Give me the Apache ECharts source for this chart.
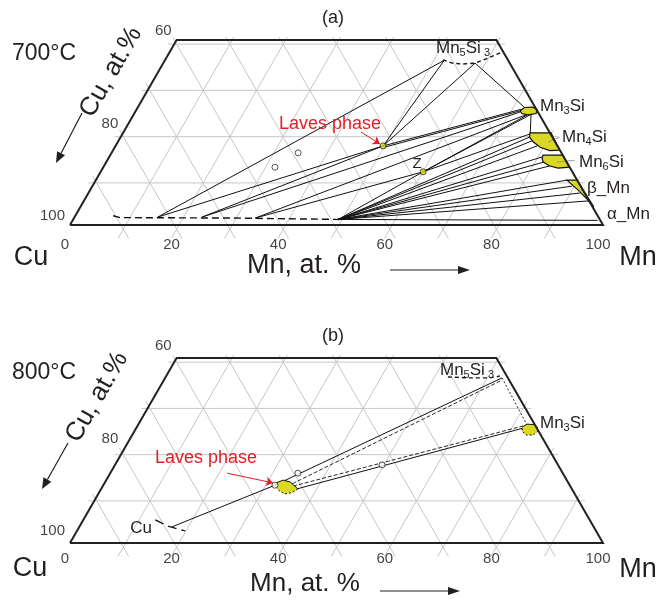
<!DOCTYPE html>
<html><head><meta charset="utf-8">
<script src="https://cdn.jsdelivr.net/npm/echarts@6/dist/echarts.min.js"></script>
<style>html,body{margin:0;padding:0;background:#fff}#c{width:660px;height:605px}</style>
</head><body><div id="c"></div>
<script>
// ---------------- DATA (compositions as [Mn at.%, Si at.%]) ----------------
const bottomTicks = [0, 20, 40, 60, 80, 100];      // Mn, at.%
const cuTicks = [60, 80, 100];                      // Cu, at.%
const gridStep = 10;
const siTop = 40;

// Panel (a) 700 °C
const a_cuBoundary = [[7.1,2.0],[8.6,1.6],[30,1.5],[50,1.2]];
const a_mn5si3Boundary = [[52.1,35.7],[54.2,35.0],[56.1,34.8],[58.5,35.0],[60.4,36.1],[62.1,37.2]];
const a_lavesPt = [[50.2,17.1]];
const a_zPt = [[60.5,11.5]];
const a_openPts = [[32.2,12.5],[35.0,15.6]];
const a_tieLines = [
  [[15.6,1.7],[52.4,35.6]],
  [[15.6,1.7],[50.2,17.1]],
  [[23.9,1.7],[50.2,17.1]],
  [[23.9,1.7],[72.2,24.4]],
  [[50.2,17.1],[52.4,35.6]],
  [[50.2,17.1],[58.5,35.0]],
  [[58.5,35.0],[72.6,25.4]],
  [[50.2,17.1],[72.1,25.0]],
  [[50.5,16.8],[72.2,24.7]],
  [[34.0,1.5],[73.6,23.8]],
  [[34.0,1.5],[60.5,11.5]],
  [[60.5,11.5],[73.9,23.8]],
  [[60.5,11.5],[74.4,23.8]],
  [[74.6,23.8],[76.4,19.9]],
  [[60.5,11.5],[76.5,19.7]],
  [[49.7,1.2],[60.5,11.5]],
  [[49.7,1.2],[76.7,19.0]],
  [[49.7,1.2],[77.6,18.2]],
  [[49.7,1.2],[79.1,17.1]],
  [[49.7,1.2],[81.2,14.7]],
  [[49.7,1.2],[82.1,13.6]],
  [[49.7,1.2],[83.7,12.8]],
  [[49.7,1.2],[88.4,9.7]],
  [[49.7,1.2],[90.0,8.4]],
  [[49.7,1.2],[92.2,6.9]],
  [[49.7,1.2],[94.6,5.2]],
  [[49.7,1.2],[98.5,1.0]]
];
const a_regions = [
  [[72.1,24.7],[72.6,25.4],[74.0,25.5],[75.1,25.0],[75.4,24.1],[74.0,23.8],[72.7,24.1]],   // Mn3Si
  [[76.35,19.9],[80.3,19.9],[83.8,16.2],[82.0,16.1],[79.8,16.8],[77.9,18.0],[76.7,19.0]],  // Mn4Si
  [[81.2,15.1],[84.9,15.1],[87.4,12.5],[85.4,12.3],[83.5,12.8],[82.0,13.6],[81.3,14.5]],   // Mn6Si
  [[88.4,9.7],[90.25,9.7],[96.35,3.9],[94.2,5.6],[91.5,7.6],[89.25,9.1]]                   // beta-Mn
];
const a_pointers = [
  [[80.7,17.9],[82.4,19.0]],
  [[84.6,13.6],[87.7,14.0]],
  [[91.7,7.1],[92.7,7.8]]
];
const a_lavesArrow = [[44.55,20.1],[49.4,17.5]];

// Panel (b) 800 °C
const b_cuBoundary = [[13.5,5.0],[16.4,3.7],[18.1,3.2],[20.3,2.6]];
const b_mn5si3Boundary = [[52.95,35.9],[57.2,35.7],[60.95,35.7],[62.6,36.1]];
const b_lavesRegion = [[32.2,13.0],[33.2,13.6],[34.7,13.2],[36.9,11.7],[36.2,10.9],[35.0,10.6],[33.5,11.35],[32.6,12.1]];
const b_mn3siRegion = [[72.3,25.1],[72.9,25.7],[74.3,25.6],[75.1,25.1],[75.7,24.2],[75.2,23.35],[73.9,23.35],[72.7,24.2]];
const b_openPts = [[32.2,12.5],[35.2,15.1],[50.1,16.9]];
const b_solidTies = [
  [[17.4,3.5],[32.2,12.5]],
  [[32.2,12.5],[63.2,35.7]],
  [[36.75,11.7],[72.75,24.9]]
];
const b_dashedTies = [
  [[35.3,12.8],[63.4,35.2]],
  [[35.7,12.3],[72.35,25.3]]
];
const b_dottedTies = [
  [[63.2,35.7],[73.0,25.5]]
];
const b_lavesArrow = [[21.9,15.1],[31.6,13.0]];

// ---------------- RENDERING ----------------
const FONT = '"Liberation Sans", Arial, sans-serif';
const TXT = '#231f20';
const YEL = '#dad822';
const RED = '#e41f26';
const GRAY = '#c6c6c6';
const tc = p => [p[0] + p[1] / 2, p[1]];   // ternary -> cartesian (x in Mn units, y in Si units)

function gridLines() {
  const out = [], sh = -0.9, lo = -2, hi = 41.5, ext = 1.6;
  for (let s = gridStep; s <= siTop; s += gridStep) out.push([[s / 2 - ext, s + sh], [100 - s / 2 + ext, s + sh]]);
  for (let m = gridStep; m < 100; m += gridStep) { const t = Math.min(hi, 100 - m + 1.5); out.push([[m + lo / 2, lo + sh], [m + t / 2, t + sh]]); }
  for (let k = gridStep; k < 100; k += gridStep) { const t = Math.min(hi, k + 1.5); out.push([[k - lo / 2, lo + sh], [k - t / 2, t + sh]]); }
  return out;
}
const frame = [[[0,0],[100,0],[60,40],[0,40],[0,0]]];

function lineSeries(idx, data, style, extra, conv) {
  const f = conv === false ? (p => p) : tc;
  return Object.assign({
    type: 'lines', coordinateSystem: 'cartesian2d', xAxisIndex: idx, yAxisIndex: idx,
    silent: true, polyline: true, clip: false, symbol: ['none', 'none'],
    data: data.map(c => ({ coords: c.map(f) })), lineStyle: Object.assign({ opacity: 1 }, style)
  }, extra || {});
}
function regionSeries(idx, regions, style, z) {
  return {
    type: 'custom', coordinateSystem: 'cartesian2d', xAxisIndex: idx, yAxisIndex: idx, silent: true, clip: false, z: z || 4,
    data: regions.map((r, i) => [tc(r[0])[0], tc(r[0])[1], i]),
    renderItem: (params, api) => ({
      type: 'polygon',
      shape: { points: regions[params.dataIndex].map(p => api.coord(tc(p))) },
      style: Object.assign({ fill: YEL }, style)
    })
  };
}
function pointSeries(idx, pts, fill, size) {
  return {
    type: 'scatter', xAxisIndex: idx, yAxisIndex: idx, silent: true, z: 8, symbol: 'circle', symbolSize: size || 6,
    data: pts.map(tc), itemStyle: { color: fill, borderColor: '#111', borderWidth: 0.9 }
  };
}
function tickSeries(idx, bottomOff, leftOff) {
  return [{
    type: 'scatter', xAxisIndex: idx, yAxisIndex: idx, silent: true, symbolSize: 1, z: 9,
    itemStyle: { color: 'rgba(0,0,0,0)' },
    data: bottomTicks.map(v => ({ value: tc([v, 0]), name: String(v) })),
    label: { show: true, position: 'inside', offset: bottomOff, formatter: '{b}', fontFamily: FONT, fontSize: 15, color: '#111' }
  }, {
    type: 'scatter', xAxisIndex: idx, yAxisIndex: idx, silent: true, symbolSize: 1, z: 9,
    itemStyle: { color: 'rgba(0,0,0,0)' },
    data: cuTicks.map(c => ({ value: tc([0, 100 - c]), name: String(c) })),
    label: { show: true, position: 'inside', align: 'right', offset: leftOff, formatter: '{b}', fontFamily: FONT, fontSize: 15, color: '#111' }
  }];
}
function arrowLine(idx, pts) {
  return {
    type: 'lines', coordinateSystem: 'cartesian2d', xAxisIndex: idx, yAxisIndex: idx, silent: true, clip: false, z: 9,
    symbol: ['none', 'arrow'], symbolSize: 7,
    data: [{ coords: pts.map(tc) }], lineStyle: { color: RED, width: 1, opacity: 1 }
  };
}

const GRIDW = 110 * 5.33, GRIDH = 48 * 4.625;
const grids = [
  { left: 70 - 5 * 5.33, top: 225 - 44 * 4.625, width: GRIDW, height: GRIDH },
  { left: 70 - 5 * 5.33, top: 543 - 44 * 4.625, width: GRIDW, height: GRIDH }
];

const series = [];
[0, 1].forEach(i => {
  series.push(lineSeries(i, gridLines(), { color: GRAY, width: 1 }, { z: 1 }, false));
  series.push(lineSeries(i, frame, { color: '#222', width: 2 }, { z: 6 }));
  series.push(...tickSeries(i, i === 0 ? [-5, 20] : [-5, 16], i === 0 ? [-5, -9] : [-5, -12]));
});
// panel a
series.push(lineSeries(0, a_tieLines, { color: '#111', width: 1 }, { z: 3 }));
series.push(lineSeries(0, [a_cuBoundary], { color: '#111', width: 1.4, type: [7, 4] }, { z: 3 }));
series.push(lineSeries(0, [a_mn5si3Boundary], { color: '#111', width: 1.4, type: [4, 3] }, { z: 3 }));
series.push(lineSeries(0, a_pointers, { color: '#888', width: 0.8 }, { z: 5 }));
series.push(regionSeries(0, a_regions, { stroke: '#111', lineWidth: 1.2 }));
series.push(pointSeries(0, a_lavesPt, YEL, 6));
series.push(pointSeries(0, a_zPt, YEL, 6));
series.push(pointSeries(0, a_openPts, '#fff', 6));
series.push(arrowLine(0, a_lavesArrow));
// panel b
series.push(lineSeries(1, b_solidTies, { color: '#111', width: 1 }, { z: 3 }));
series.push(lineSeries(1, b_dashedTies, { color: '#111', width: 0.9, type: [4, 2] }, { z: 3 }));
series.push(lineSeries(1, b_dottedTies, { color: '#111', width: 0.9, type: [2, 2] }, { z: 3 }));
series.push(lineSeries(1, [b_cuBoundary], { color: '#111', width: 1.3, type: [9, 5] }, { z: 3 }));
series.push(lineSeries(1, [b_mn5si3Boundary], { color: '#111', width: 1.4, type: [4, 3] }, { z: 3 }));
series.push(regionSeries(1, [b_lavesRegion, b_mn3siRegion], {}, 4));
series.push(lineSeries(1, [b_lavesRegion.slice(0, 4), b_mn3siRegion.slice(0, 4)], { color: '#111', width: 1 }, { z: 5 }));
series.push(lineSeries(1, [b_lavesRegion.slice(3).concat([b_lavesRegion[0]]), b_mn3siRegion.slice(3).concat([b_mn3siRegion[0]])], { color: '#111', width: 1, type: [2, 2] }, { z: 5 }));
series.push(pointSeries(1, b_openPts, '#fff', 6));
series.push(arrowLine(1, b_lavesArrow));

// ---------- text & arrows (graphic) ----------
function T(text, x, y, size, o) {
  o = o || {};
  return { type: 'text', x, y, rotation: o.rot || 0, z: 20,
    style: { text, fontFamily: FONT, fontSize: size, fill: o.color || TXT, align: o.align || 'center', verticalAlign: 'middle' } };
}
function chem(parts, x, y, size) {
  const text = parts.map(([t, s]) => `{${s ? 's' : 'n'}|${t}}`).join('');
  return { type: 'text', x, y, z: 20, style: { text, align: 'left', verticalAlign: 'middle',
    rich: { n: { fontSize: size, fontFamily: FONT, fill: TXT },
            s: { fontSize: Math.round(size * 0.62), fontFamily: FONT, fill: TXT, padding: [Math.round(size * 0.55), 0, 0, 0] } } } };
}
function arrow(x1, y1, x2, y2, hl, hw) {
  const a = Math.atan2(y2 - y1, x2 - x1), bx = x2 - hl * Math.cos(a), by = y2 - hl * Math.sin(a);
  const nx = -Math.sin(a) * hw / 2, ny = Math.cos(a) * hw / 2;
  return [{ type: 'line', z: 20, shape: { x1, y1, x2: bx, y2: by }, style: { stroke: TXT, lineWidth: 1.2 } },
          { type: 'polygon', z: 20, shape: { points: [[x2, y2], [bx + nx, by + ny], [bx - nx, by - ny]] }, style: { fill: TXT } }];
}
const g = [];
// panel a
g.push(T('(a)', 333, 18, 18));
g.push(T('700°C', 12, 54, 23, { align: 'left' }));
g.push(T('Cu, at.%', 111, 72, 26, { rot: Math.PI / 3 }));
g.push(...arrow(82, 113, 56, 163, 11, 9));
g.push(T('Cu', 31, 258, 27));
g.push(T('Mn', 638, 258, 27));
g.push(T('Mn, at. %', 304, 266, 27));
g.push(...arrow(390, 270, 470, 270, 12, 8));
g.push(T('Laves phase', 330, 124, 18, { color: RED }));
g.push(T('Z', 417, 164, 15));
g.push(chem([['Mn', 0], ['5', 1], ['Si', 0], [' 3', 1]], 436, 48, 17));
g.push(chem([['Mn', 0], ['3', 1], ['Si', 0]], 540, 106, 17));
g.push(chem([['Mn', 0], ['4', 1], ['Si', 0]], 562, 137, 17));
g.push(chem([['Mn', 0], ['6', 1], ['Si', 0]], 579, 162, 17));
g.push(T('β_Mn', 587, 188, 17, { align: 'left' }));
g.push(T('α_Mn', 607, 214, 17, { align: 'left' }));
// panel b
g.push(T('(b)', 333, 336, 18));
g.push(T('800°C', 12, 373, 23, { align: 'left' }));
g.push(T('Cu, at.%', 97, 397, 26, { rot: Math.PI / 3 }));
g.push(...arrow(68, 443, 42, 489, 11, 9));
g.push(T('Cu', 30, 569, 27));
g.push(T('Mn', 638, 570, 27));
g.push(T('Mn, at. %', 305, 584, 26));
g.push(...arrow(380, 591, 460, 591, 12, 8));
g.push(T('Laves phase', 206, 458, 18, { color: RED }));
g.push(T('Cu', 141, 528, 17));
g.push(chem([['Mn', 0], ['5', 1], ['Si', 0], [' 3', 1]], 440, 370, 17));
g.push(chem([['Mn', 0], ['3', 1], ['Si', 0]], 540, 423, 17));

const chart = echarts.init(document.getElementById('c'), null, { renderer: 'canvas' });
chart.setOption({
  animation: false,
  backgroundColor: '#fff',
  grid: grids,
  xAxis: [0, 1].map(i => ({ type: 'value', gridIndex: i, min: -5, max: 105, show: false })),
  yAxis: [0, 1].map(i => ({ type: 'value', gridIndex: i, min: -4, max: 44, show: false })),
  series,
  graphic: g
});
</script>
</body></html>
